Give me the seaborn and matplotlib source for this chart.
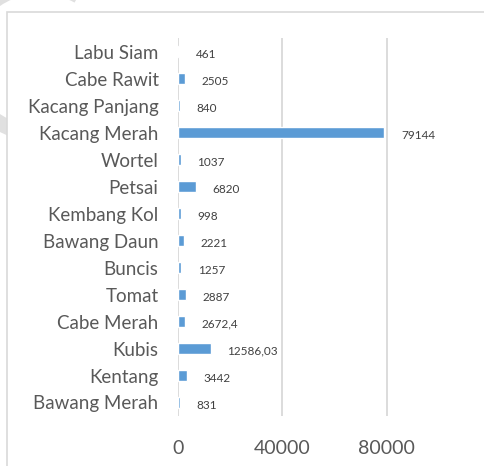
import matplotlib
matplotlib.use("Agg")
import matplotlib.pyplot as plt
import seaborn as sns
import pandas as pd
from matplotlib.patches import Rectangle, Wedge

categories = ["Labu Siam", "Cabe Rawit", "Kacang Panjang", "Kacang Merah", "Wortel",
              "Petsai", "Kembang Kol", "Bawang Daun", "Buncis", "Tomat",
              "Cabe Merah", "Kubis", "Kentang", "Bawang Merah"]
values = [461, 2505, 840, 79144, 1037, 6820, 998, 2221, 1257, 2887,
          2672.4, 12586.03, 3442, 831]
value_labels = ["461", "2505", "840", "79144", "1037", "6820", "998", "2221", "1257",
                "2887", "2672,4", "12586,03", "3442", "831"]
x_ticks = [0, 40000, 80000]

df = pd.DataFrame({"category": categories, "value": values})

sns.set_theme(style="white")
plt.rcParams['font.family'] = ['Lato', 'DejaVu Sans']

fig = plt.figure(figsize=(4.85, 4.66), dpi=100)
W, H = 485, 466

# watermark (faint logo fragment)
fig.patches.append(Wedge((40 / W, 1 - 60 / H), 85 / W, 60, 250, width=16 / W,
                         transform=fig.transFigure, facecolor="#E0E0E0",
                         edgecolor="none", zorder=0))

# chart border
fig.patches.append(Rectangle((7 / W, -0.1), 1.2, 1 - 12 / H + 0.1,
                             transform=fig.transFigure, facecolor="white",
                             edgecolor="#D9D9D9", linewidth=1.2, zorder=1))

left = 178 / W
ax = fig.add_axes([left, 1 - 416 / H, 470 / W - left, (416 - 38) / H])
ax.set_zorder(2)
ax.patch.set_alpha(0)

sns.barplot(data=df, x="value", y="category", orient="h", color="#5B9BD5",
            saturation=1, width=0.38, ax=ax, order=categories)

ax.set_xlim(0, 112000)
ax.set_xticks(x_ticks)
ax.set_xticklabels([str(t) for t in x_ticks])
for t in x_ticks:
    ax.axvline(t, color="#D9D9D9", linewidth=1.3, zorder=0)

for i, (v, lab) in enumerate(zip(values, value_labels)):
    ax.annotate(lab, xy=(v, i), xytext=(12, -2), textcoords="offset points",
                ha="left", va="center", fontsize=8.5, color="#404040")

for s in ax.spines.values():
    s.set_visible(False)
ax.set_xlabel("")
ax.set_ylabel("")
ax.tick_params(axis="x", length=0, labelsize=14, labelcolor="#595959", pad=17)
ax.tick_params(axis="y", length=0, labelsize=13.5, labelcolor="#595959", pad=14)

fig.savefig("out.png", dpi=100)
